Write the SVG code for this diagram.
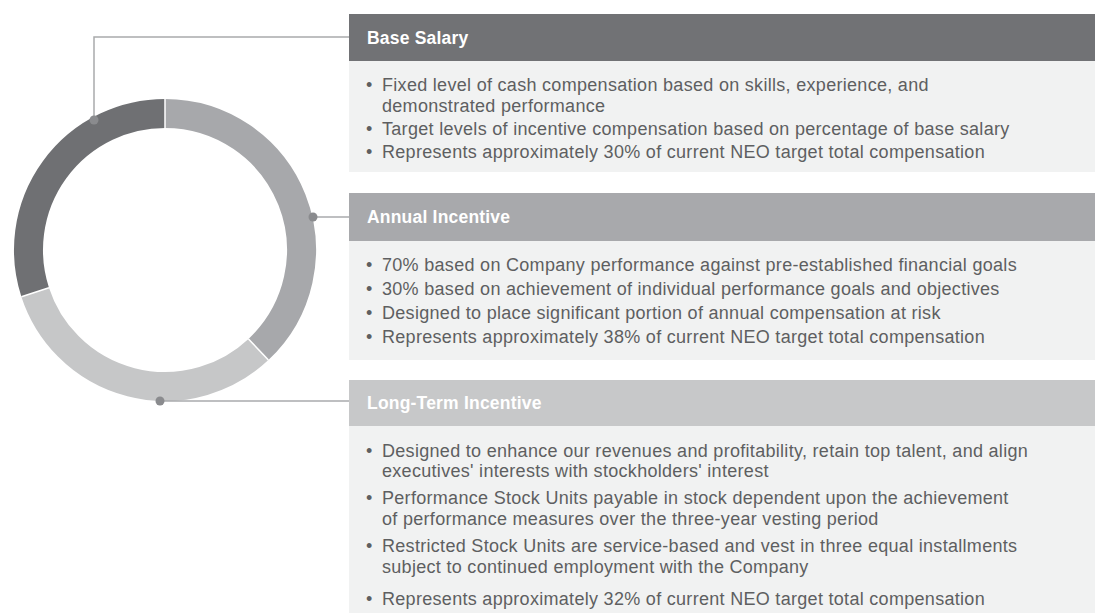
<svg xmlns="http://www.w3.org/2000/svg" width="1095" height="613" viewBox="0 0 1095 613">
<style>
.hdr{font-family:"Liberation Sans",Arial,sans-serif;font-size:17.5px;font-weight:bold;fill:#ffffff;letter-spacing:0.2px}
.txt{font-family:"Liberation Sans",Arial,sans-serif;font-size:18px;fill:#5e5f61;letter-spacing:0.3px}
.body{fill:#f1f2f2}
.ring{fill:none;stroke-width:29}
.conn{fill:none;stroke:#a9aaac;stroke-width:1.5}
.dot{fill:#8a8b8e}
.sep{stroke:#ffffff;stroke-width:1.5}
</style>
<rect width="1095" height="613" fill="#ffffff"/>
<g id="donut">
<path class="ring" stroke="#a7a8ab" d="M165,113.5 A136.5,136.5 0 0 1 258.44,349.51"/>
<path class="ring" stroke="#c6c7c8" d="M258.44,349.51 A136.5,136.5 0 0 1 35.17,292.18"/>
<path class="ring" stroke="#6f7073" d="M35.17,292.18 A136.5,136.5 0 0 1 165,113.5"/>
<line class="sep" x1="165" y1="99" x2="165" y2="128"/>
<line class="sep" x1="248.5" y1="339" x2="268.4" y2="360"/>
<line class="sep" x1="49" y1="287.7" x2="21.4" y2="296.7"/>
</g>
<g id="connectors">
<polyline class="conn" points="94,120 94,37 349,37"/>
<line class="conn" x1="313" y1="217" x2="349" y2="217"/>
<line class="conn" x1="160" y1="401" x2="349" y2="401"/>
<circle class="dot" cx="94" cy="120" r="4.5"/>
<circle class="dot" cx="313" cy="217" r="4.5"/>
<circle class="dot" cx="160" cy="401" r="4.5"/>
</g>
<g id="base-salary">
<rect x="349" y="14" width="746" height="47" fill="#717275"/>
<rect class="body" x="349" y="61" width="746" height="111"/>
<text class="hdr" x="367" y="43.5">Base Salary</text>
<text class="txt" x="366" y="91">•</text>
<text class="txt" x="382" y="91">Fixed level of cash compensation based on skills, experience, and</text>
<text class="txt" x="382" y="112">demonstrated performance</text>
<text class="txt" x="366" y="135">•</text>
<text class="txt" x="382" y="135">Target levels of incentive compensation based on percentage of base salary</text>
<text class="txt" x="366" y="158">•</text>
<text class="txt" x="382" y="158">Represents approximately 30% of current NEO target total compensation</text>
</g>
<g id="annual-incentive">
<rect x="349" y="193" width="746" height="48" fill="#a8a9ac"/>
<rect class="body" x="349" y="241" width="746" height="119"/>
<text class="hdr" x="367" y="223">Annual Incentive</text>
<text class="txt" x="366" y="271">•</text>
<text class="txt" x="382" y="271">70% based on Company performance against pre-established financial goals</text>
<text class="txt" x="366" y="295">•</text>
<text class="txt" x="382" y="295">30% based on achievement of individual performance goals and objectives</text>
<text class="txt" x="366" y="319">•</text>
<text class="txt" x="382" y="319">Designed to place significant portion of annual compensation at risk</text>
<text class="txt" x="366" y="343">•</text>
<text class="txt" x="382" y="343">Represents approximately 38% of current NEO target total compensation</text>
</g>
<g id="long-term-incentive">
<rect x="349" y="380" width="746" height="46" fill="#c7c8c9"/>
<rect class="body" x="349" y="426" width="746" height="187"/>
<text class="hdr" x="367" y="409">Long-Term Incentive</text>
<text class="txt" x="366" y="457">•</text>
<text class="txt" x="382" y="457">Designed to enhance our revenues and profitability, retain top talent, and align</text>
<text class="txt" x="382" y="477">executives' interests with stockholders' interest</text>
<text class="txt" x="366" y="504">•</text>
<text class="txt" x="382" y="504">Performance Stock Units payable in stock dependent upon the achievement</text>
<text class="txt" x="382" y="525">of performance measures over the three-year vesting period</text>
<text class="txt" x="366" y="552">•</text>
<text class="txt" x="382" y="552">Restricted Stock Units are service-based and vest in three equal installments</text>
<text class="txt" x="382" y="573">subject to continued employment with the Company</text>
<text class="txt" x="366" y="605">•</text>
<text class="txt" x="382" y="605">Represents approximately 32% of current NEO target total compensation</text>
</g>
</svg>
